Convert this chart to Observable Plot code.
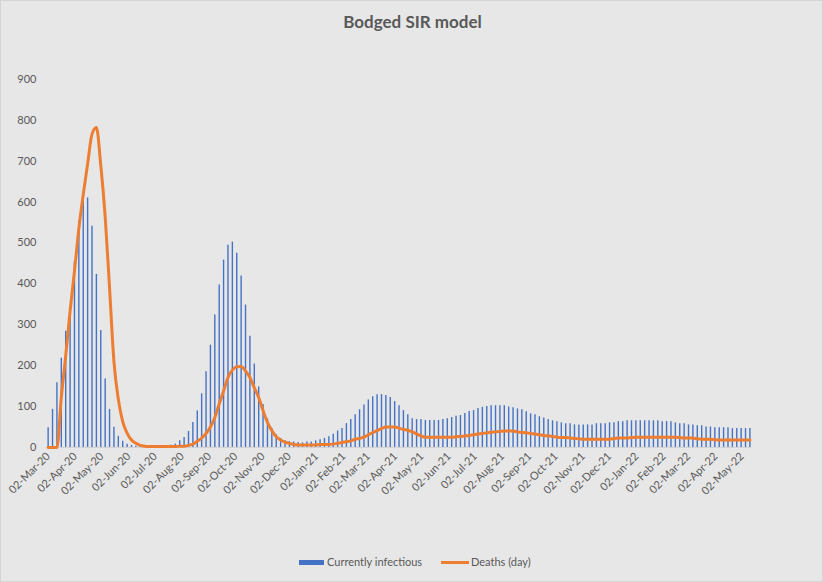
<!DOCTYPE html>
<html>
<head>
<meta charset="utf-8">
<script src="https://cdn.jsdelivr.net/npm/d3@7"></script>
<script src="https://cdn.jsdelivr.net/npm/@observablehq/plot@0.6"></script>
<style>
  html, body { margin: 0; padding: 0; background: #e7e7e7; }
  #wrap { position: relative; width: 823px; height: 582px; background: #e7e7e7; box-sizing: border-box; border: 1px solid #d4d4d4; overflow: hidden; font-family: Lato, "Open Sans", sans-serif; }
  #title { position: absolute; top: 10px; left: 0; width: 823px; text-align: center; font-weight: 700; font-size: 17px; color: #595959; }
  #chart { position: absolute; top: 0; left: 0; }
  #legend { position: absolute; top: 553px; left: 0; width: 823px; height: 16px; font-size: 11px; color: #595959; }
  .sw { position: absolute; }
  .lt { position: absolute; top: 0; line-height: 16px; }
</style>
</head>
<body>
<div id="wrap">
  <div id="chart"></div>
  <div id="title">Bodged SIR model</div>
  <div id="legend">
    <div class="sw" style="left:298px; top:6px; width:25px; height:5px; background:#4472C4;"></div>
    <div class="lt" style="left:326px;">Currently infectious</div>
    <div class="sw" style="left:440px; top:7px; width:28px; height:3px; background:#ED7D31;"></div>
    <div class="lt" style="left:470px;">Deaths (day)</div>
  </div>
</div>
<script>
// Series: one value every 5 days starting 02-Mar-2020
const startDate = "2020-03-02";
const stepDays = 5;

const infectious = [
  48, 93, 158, 218, 284, 344, 454, 554, 612, 610,
  541, 423, 286, 167, 93, 49, 27, 15, 8, 5,
  3, 2, 1, 1, 1, 2, 3, 4, 5, 8,
  16, 24, 39, 61, 89, 131, 185, 250, 324, 397,
  458, 494, 502, 475, 419, 348, 272, 204, 148, 105,
  70, 46, 31, 22, 16, 14, 13, 12, 11, 13,
  13, 16, 19, 22, 26, 32, 40, 46, 58, 68,
  80, 92, 104, 116, 124, 129, 129, 127, 122, 112,
  102, 90, 80, 70, 68, 68, 66, 66, 66, 66,
  68, 70, 73, 76, 78, 83, 88, 90, 95, 98,
  100, 102, 102, 102, 102, 99, 97, 94, 92, 87,
  82, 80, 75, 72, 68, 65, 63, 60, 58, 58,
  55, 55, 55, 55, 55, 58, 58, 58, 60, 60,
  63, 63, 65, 65, 65, 65, 65, 65, 65, 65,
  63, 63, 63, 60, 58, 58, 55, 55, 53, 53,
  50, 50, 48, 48, 48, 48, 46, 46, 46, 46,
  46
];

const deaths = [
  0, 0, 0, 122, 224, 333, 431, 535, 618, 693,
  766, 782, 690, 565, 390, 210, 118, 63, 35, 18,
  10, 5, 3, 2, 2, 2, 2, 2, 2, 2,
  3, 3, 5, 8, 15, 23, 34, 50, 73, 106,
  138, 171, 189, 197, 198, 187, 171, 146, 122, 90,
  61, 41, 26, 18, 13, 10, 7, 6, 6, 6,
  6, 6, 7, 7, 7, 8, 10, 12, 14, 16,
  20, 22, 25, 31, 36, 41, 46, 50, 50, 50,
  47, 44, 42, 38, 33, 28, 25, 25, 25, 25,
  25, 25, 25, 26, 27, 28, 29, 31, 33, 34,
  36, 37, 38, 39, 40, 40, 40, 38, 37, 36,
  34, 33, 31, 29, 28, 27, 25, 24, 24, 23,
  22, 21, 20, 20, 20, 20, 20, 20, 20, 22,
  23, 23, 23, 24, 25, 25, 25, 25, 25, 25,
  25, 25, 25, 25, 24, 23, 23, 23, 21, 20,
  20, 20, 19, 18, 18, 18, 18, 18, 18, 18,
  18
];

const yTicks = [0, 100, 200, 300, 400, 500, 600, 700, 800, 900];

const xTickLabels = [
  "2020-03-02","2020-04-02","2020-05-02","2020-06-02","2020-07-02","2020-08-02",
  "2020-09-02","2020-10-02","2020-11-02","2020-12-02","2021-01-02","2021-02-02",
  "2021-03-02","2021-04-02","2021-05-02","2021-06-02","2021-07-02","2021-08-02",
  "2021-09-02","2021-10-02","2021-11-02","2021-12-02","2022-01-02","2022-02-02",
  "2022-03-02","2022-04-02","2022-05-02"
];

const start = new Date(startDate + "T00:00:00Z");
const data = infectious.map((v, i) => ({
  date: d3.utcDay.offset(start, stepDays * i),
  inf: v,
  deaths: deaths[i]
}));
const tickDates = xTickLabels.map(s => new Date(s + "T00:00:00Z"));

const chart = Plot.plot({
  width: 823,
  height: 520,
  marginTop: 78,
  marginBottom: 73,
  marginLeft: 45,
  marginRight: 71,
  style: { background: "transparent", fontFamily: "Lato, 'Open Sans', sans-serif", fontSize: "11px", color: "#595959", overflow: "visible" },
  x: { type: "utc", domain: [new Date("2020-02-29T00:00:00Z"), new Date("2022-05-13T00:00:00Z")] },
  y: { domain: [0, 900] },
  marks: [
    Plot.ruleY([0], { stroke: "#d0d0d0", strokeWidth: 1 }),
    Plot.ruleX(data, { x: "date", y1: 0, y2: "inf", stroke: "#4472C4", strokeWidth: 1.4 }),
    Plot.line(data, { x: "date", y: "deaths", stroke: "#ED7D31", strokeWidth: 3, curve: "monotone-x" }),
    Plot.axisY({ ticks: yTicks, tickSize: 0, tickPadding: 10, label: null, fill: "#595959" }),
    Plot.axisX({ ticks: tickDates, tickFormat: d3.utcFormat("%d-%b-%y"), tickRotate: -45, tickSize: 0, tickPadding: 7, label: null, fill: "#595959" })
  ]
});
document.getElementById("chart").appendChild(chart);
</script>
</body>
</html>
